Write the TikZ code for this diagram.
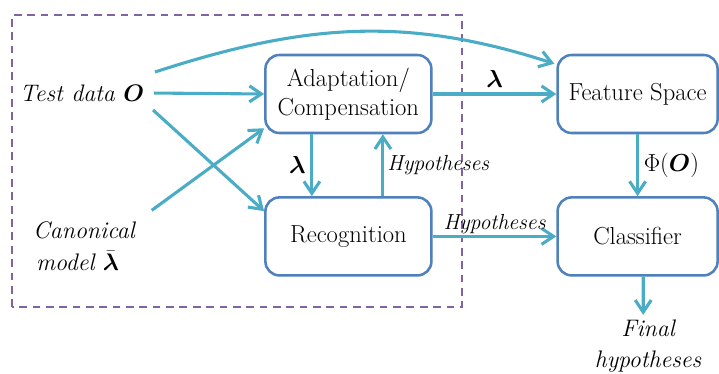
\RequirePackage{fix-cm}
\documentclass[tikz,border=0pt]{standalone}
\usepackage{amsmath}
\usepackage{fontspec}
\usepackage{tikz}
\usetikzlibrary{arrows.meta,shadows}

\definecolor{arrowteal}{RGB}{75,172,198}
\definecolor{boxblue}{RGB}{79,129,189}
\definecolor{framepurple}{RGB}{128,100,162}

\newcommand{\bigtext}{\fontsize{17.5}{21}\selectfont}
\newcommand{\sidetext}{\fontsize{17}{22}\selectfont\itshape}
\newcommand{\labeltext}{\fontsize{15.5}{18}\selectfont\itshape}

\tikzset{
  procbox/.style={draw=boxblue, line width=1.8pt, rounded corners=0.35cm,
    fill=white, align=center, font=\bigtext,
    drop shadow={opacity=0.2, shadow xshift=0.7pt, shadow yshift=-0.7pt}},
  flow/.style={draw=arrowteal, line width=2.2pt,
    -{Straight Barb[length=0.3cm, width=0.4cm]}},
  plain/.style={align=center, font=\sidetext}
}

\begin{document}
\begin{tikzpicture}
  \useasboundingbox (0,0) rectangle (17.975,9.35);
  % system boundary
  \draw[framepurple, line width=1pt, dash pattern=on 5.5pt off 4pt]
    (0.3,1.675) rectangle (11.55,8.975);

  \node[plain] (test) at (2.05,7.025) {Test data $\boldsymbol{O}$};
  \node[plain, align=left] (canon) at (2.1,3.2) {Canonical\\[1pt]\hspace{2pt}model $\bar{\boldsymbol{\lambda}}$};
  \node[procbox, minimum width=4.15cm, minimum height=1.95cm] (adapt) at (8.71,7.0) {Adaptation/\\Compensation};
  \node[procbox, minimum width=4.15cm, minimum height=1.95cm] (recog) at (8.71,3.44) {Recognition};
  \node[procbox, minimum width=4.0cm, minimum height=1.95cm] (feat) at (15.94,7.0) {Feature Space};
  \node[procbox, minimum width=4.0cm, minimum height=1.95cm] (class) at (15.94,3.44) {Classifier};
  \node[plain] (final) at (16.2,0.7) {Final\\hypotheses};

  \draw[flow, shorten <=0.12cm] (test.east) -- (adapt.west);
  \draw[flow] ([shift={(0.15,0.525)}]test.east) to[out=18, in=162]
    ([shift={(-0.05,-0.25)}]feat.north west);
  \draw[flow] ([shift={(0.1,-0.425)}]test.east) -- ([yshift=-0.375cm]recog.north west);
  \draw[flow] ([shift={(0.3,0.15)}]canon.north east) -- ([yshift=0.15cm]adapt.south west);

  \draw[flow] ([xshift=-0.9125cm]adapt.south) -- node[left, font=\bigtext] {$\boldsymbol{\lambda}$}
    ([xshift=-0.9125cm]recog.north);
  \draw[flow] ([xshift=0.8625cm]recog.north) -- node[right, inner sep=2pt, font=\labeltext] {Hypotheses}
    ([xshift=0.8625cm]adapt.south);

  \draw[flow] (adapt.east) -- node[above, font=\bigtext] {$\boldsymbol{\lambda}$} (feat.west);
  \draw[flow] (recog.east) -- node[above, inner sep=1pt, font=\labeltext] {Hypotheses} (class.west);

  \draw[flow] (feat.south) -- node[right, font=\bigtext] {$\Phi(\boldsymbol{O})$} (class.north);
  \draw[flow] ([xshift=0.14cm]class.south) -- ([xshift=-0.12cm]final.north);
\end{tikzpicture}
\end{document}
